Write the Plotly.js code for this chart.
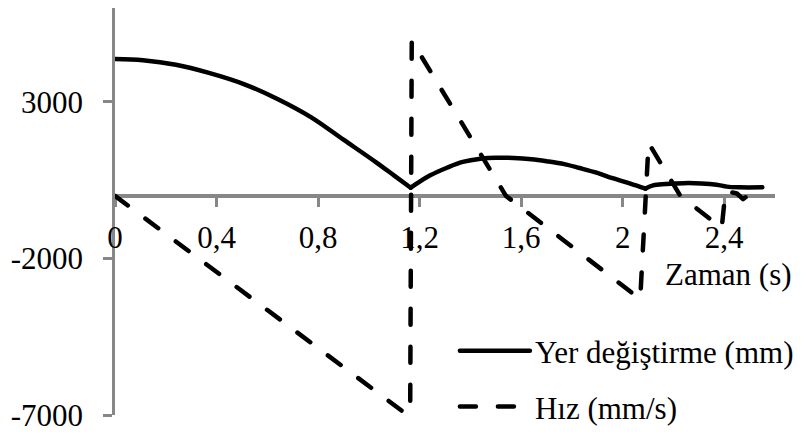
<!DOCTYPE html>
<html>
<head>
<meta charset="utf-8">
<script src="https://cdn.plot.ly/plotly-3.0.1.min.js"></script>
<style>
  html, body { margin: 0; padding: 0; background: #fff; }
  #chart { width: 810px; height: 442px; }
  /* serif face for every label of the chart */
  #chart text { font-family: "Liberation Serif", "Times New Roman", serif !important; }
  /* rounded line ends, as in the office-style chart */
  .js-line { stroke-linecap: round; stroke-linejoin: round; }
</style>
</head>
<body>
<div id="chart"></div>
<script>
// Bouncing ball: displacement (mm) and velocity (mm/s) against time (s).
// Each arc of the displacement is its own spline segment; a null value
// breaks the line at an impact so the corner stays sharp.
const timeDisp = [0, 0.11, 0.24, 0.37, 0.51, 0.64, 0.77, 0.90, 1.03, 1.10, 1.165,
                  1.165, 1.165, 1.24, 1.31, 1.37, 1.44, 1.50, 1.57, 1.64, 1.70, 1.77, 1.83, 1.90, 1.96, 2.03, 2.09,
                  2.09, 2.09, 2.12, 2.17, 2.24, 2.31, 2.37, 2.41, 2.46, 2.55];
const displacement = [4375, 4334, 4188, 3928, 3563, 3094, 2522, 1794, 1063, 647, 260,
                      null, 260, 647, 906, 1084, 1188, 1219, 1209, 1169, 1106, 1013, 888, 731, 563, 388, 231,
                      null, 231, 334, 375, 406, 397, 356, 294, 272, 272];

const timeVel = [0, 1.152, 1.163, 1.169, 1.54, 2.069, 2.102, 2.227, 2.39, 2.405, 2.45, 2.474, 2.505];
const velocity = [0, -7000, -6650, 4960, 0, -3300, 1690, 0, -1030, 150, 75, -103, 75];

const xTickVals = [0, 0.4, 0.8, 1.2, 1.6, 2.0, 2.4];
const xTickText = ['0', '0,4', '0,8', '1,2', '1,6', '2', '2,4'];
const yTickVals = [-7000, -2000, 3000];
const yTickText = ['-7000', '-2000', '3000'];

const FONT = 'Liberation Serif';
const AXIS_GREY = '#878787';

const traces = [
  {
    x: timeDisp, y: displacement,
    type: 'scatter', mode: 'lines',
    name: 'Yer değiştirme (mm)',
    connectgaps: false,
    line: { color: '#000', width: 4.5, shape: 'spline', smoothing: 1 },
    legend: 'legend',
    hoverinfo: 'skip'
  },
  {
    x: timeVel, y: velocity,
    type: 'scatter', mode: 'lines',
    name: 'Hız (mm/s)',
    line: { color: '#000', width: 4.5, dash: '16px,22px' },
    legend: 'legend2',
    hoverinfo: 'skip'
  }
];

const legendBase = {
  xanchor: 'left', yanchor: 'middle',
  bgcolor: 'rgba(0,0,0,0)',
  font: { family: FONT, size: 31, color: '#000' },
  itemwidth: 70
};

const layout = {
  width: 810, height: 442,
  margin: { l: 115, r: 35, t: 8, b: 18, pad: 0 },
  paper_bgcolor: '#fff', plot_bgcolor: '#fff',
  font: { family: FONT, size: 31, color: '#000' },
  showlegend: true,
  legend: Object.assign({}, legendBase, { x: 0.515, y: 0.157 }),
  legend2: Object.assign({}, legendBase, { x: 0.515, y: 0.020 }),
  xaxis: {
    range: [0, 2.6],
    anchor: 'free', position: 7000 / 13000,
    tickvals: xTickVals, ticktext: xTickText,
    ticks: 'outside', ticklen: 9, tickwidth: 2.5, tickcolor: AXIS_GREY,
    showline: true, linecolor: AXIS_GREY, linewidth: 3.5,
    showgrid: false, zeroline: false,
    tickfont: { family: FONT, size: 31, color: '#000' },
    ticklabelstandoff: 4,
    layer: 'below traces',
    fixedrange: true
  },
  yaxis: {
    range: [-7000, 6000],
    tickvals: yTickVals, ticktext: yTickText,
    ticks: 'outside', ticklen: 9, tickwidth: 2.5, tickcolor: AXIS_GREY,
    showline: true, linecolor: AXIS_GREY, linewidth: 2.5,
    showgrid: false, zeroline: false,
    tickfont: { family: FONT, size: 31, color: '#000' },
    ticklabelstandoff: 14,
    layer: 'below traces',
    fixedrange: true
  },
  annotations: [
    {
      text: 'Zaman (s)', xref: 'paper', yref: 'paper',
      x: 1.029, y: 0.345, xanchor: 'right', yanchor: 'middle',
      showarrow: false,
      font: { family: FONT, size: 31, color: '#000' }
    }
  ]
};

function draw() {
  Plotly.newPlot('chart', traces, layout, { displayModeBar: false });
}

if (document.fonts && document.fonts.load) {
  document.fonts.load('31px "Liberation Serif"').then(draw, draw);
} else {
  draw();
}
</script>
</body>
</html>
